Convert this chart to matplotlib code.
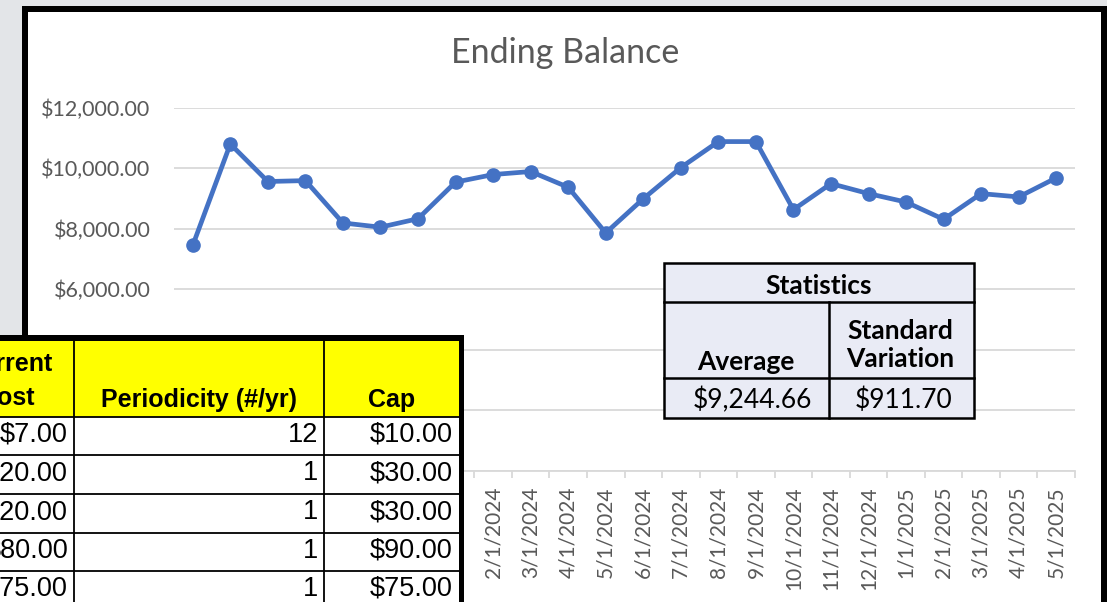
import matplotlib
matplotlib.use('Agg')
import matplotlib.pyplot as plt
import numpy as np
from matplotlib.patches import Rectangle

# ---------------- data ----------------
dates = ["6/1/2023", "7/1/2023", "8/1/2023", "9/1/2023", "10/1/2023", "11/1/2023",
         "12/1/2023", "1/1/2024", "2/1/2024", "3/1/2024", "4/1/2024", "5/1/2024",
         "6/1/2024", "7/1/2024", "8/1/2024", "9/1/2024", "10/1/2024", "11/1/2024",
         "12/1/2024", "1/1/2025", "2/1/2025", "3/1/2025", "4/1/2025", "5/1/2025"]
balance = [7450, 10800, 9560, 9590, 8190, 8050, 8330, 9540, 9790, 9890, 9370, 7860,
           8990, 10020, 10880, 10880, 8630, 9490, 9160, 8880, 8310, 9160, 9050, 9680]
y_ticks = [0, 2000, 4000, 6000, 8000, 10000, 12000]

stats_title = "Statistics"
stats_headers = ["Average", "Standard\nVariation"]
stats_values = ["$9,244.66", "$911.70"]

cost_headers = ["Current\nCost", "Periodicity (#/yr)", "Cap"]
current_cost = ["$7.00", "$20.00", "$20.00", "$80.00", "$75.00"]
periodicity = ["12", "1", "1", "1", "1"]
cap = ["$10.00", "$30.00", "$30.00", "$90.00", "$75.00"]

# ---------------- layout ----------------
W, H = 1107, 602
fig = plt.figure(figsize=(W / 100, H / 100), dpi=100)
CH_FONT = ['Lato', 'DejaVu Sans']
TB_FONT = ['Liberation Sans', 'DejaVu Sans']
GRAY_TXT = '#595959'

bg = fig.add_axes([0, 0, 1, 1], zorder=0)
bg.set_xlim(0, W); bg.set_ylim(H, 0); bg.axis('off')
bg.add_patch(Rectangle((0, 0), W, H, color='#E3E5E8', lw=0))
bg.add_patch(Rectangle((22, 6), W - 22, H, color='white', lw=0))
bg.add_patch(Rectangle((22, 6), 6, H, color='black', lw=0))
bg.add_patch(Rectangle((22, 6), W - 22, 6, color='black', lw=0))
bg.add_patch(Rectangle((1101, 6), 6, H, color='black', lw=0))
bg.text(565, 53, "Ending Balance", ha='center', va='center', fontsize=24.5,
        color=GRAY_TXT, family=CH_FONT)

# chart axes
x0, x1, ytop, ybot = 174, 1075, 107.7, 470.7
ax = fig.add_axes([x0 / W, (H - ybot) / H, (x1 - x0) / W, (ybot - ytop) / H], zorder=1)
ax.patch.set_alpha(0)
xs = np.arange(len(balance))
ax.plot(xs, balance, color='#4472C4', lw=3.4, marker='o', ms=9.5,
        solid_joinstyle='round', zorder=3)
ax.set_xlim(-0.5, len(balance) - 0.5)
ax.set_ylim(0, 12000)
ax.set_yticks(y_ticks)
ax.set_yticklabels([f"${v:,.2f}" for v in y_ticks], family=CH_FONT)
ax.grid(axis='y', color='#D9D9D9', lw=1.3, zorder=0)
for s in ['left', 'right', 'top']:
    ax.spines[s].set_visible(False)
ax.spines['bottom'].set_color('#D9D9D9')
ax.spines['bottom'].set_linewidth(1.3)
ax.set_xticks(xs)
ax.set_xticklabels(dates, rotation=90, family=CH_FONT)
ax.set_xticks(np.arange(-0.5, len(balance)), minor=True)
ax.tick_params(axis='x', which='major', length=0, pad=11.5, labelsize=15, labelcolor=GRAY_TXT)
ax.tick_params(axis='x', which='minor', length=5, color='#D9D9D9', width=1.3)
ax.tick_params(axis='y', length=0, pad=17, labelsize=15.5, labelcolor=GRAY_TXT)

# overlay for tables
ov = fig.add_axes([0, 0, 1, 1], zorder=2)
ov.patch.set_alpha(0)
ov.set_xlim(0, W); ov.set_ylim(H, 0); ov.axis('off')

# statistics table
sx0, sx1, sxm = 663.5, 973.5, 829
sy = [262.7, 301.7, 377.7, 417.7]
ov.add_patch(Rectangle((sx0, sy[0]), sx1 - sx0, sy[3] - sy[0], facecolor='#E9EBF5',
                       edgecolor='black', lw=1.8))
ov.plot([sx0, sx1], [sy[1], sy[1]], color='black', lw=1.8)
ov.plot([sx0, sx1], [sy[2], sy[2]], color='black', lw=1.8)
ov.plot([sxm, sxm], [sy[1], sy[3]], color='black', lw=1.8)
FS = 19
ov.text((sx0 + sx1) / 2, 286, stats_title, ha='center', va='center', fontsize=FS,
        weight='bold', family=CH_FONT)
ov.text(746, 362, stats_headers[0], ha='center', va='center', fontsize=FS,
        weight='bold', family=CH_FONT)
ov.text(900, 345, stats_headers[1], ha='center', va='center', fontsize=FS,
        weight='bold', family=CH_FONT, linespacing=1.2)
ov.text(752, 400, stats_values[0], ha='center', va='center', fontsize=FS, family=CH_FONT)
ov.text(952, 400, stats_values[1], ha='right', va='center', fontsize=FS, family=CH_FONT)

# yellow cost table
tx0, tx1 = -60, 461.5
cols = [74.3, 324.3]
ty = [338, 417, 455, 494, 532.7, 571, 609]
ov.add_patch(Rectangle((tx0, ty[0]), tx1 - tx0, ty[1] - ty[0], facecolor='#FFFF00', lw=0))
ov.add_patch(Rectangle((tx0, ty[1]), tx1 - tx0, H - ty[1], facecolor='white', lw=0))
for yy in ty[1:6]:
    ov.plot([tx0, tx1], [yy, yy], color='black', lw=1.3)
for cx in cols:
    ov.plot([cx, cx], [ty[0], H], color='black', lw=1.3)
ov.add_patch(Rectangle((0, 335), 464, 6, color='black', lw=0))
ov.add_patch(Rectangle((459, 335), 5, H - 335, color='black', lw=0))

ov.text(7, 381, cost_headers[0], ha='center', va='center', fontsize=18, weight='bold',
        family=TB_FONT, linespacing=1.55)
ov.text(199, 400, cost_headers[1], ha='center', va='center', fontsize=18, weight='bold',
        family=TB_FONT)
ov.text(392, 400, cost_headers[2], ha='center', va='center', fontsize=18, weight='bold',
        family=TB_FONT)
for i in range(len(cap)):
    yc = (ty[i + 1] + ty[i + 2]) / 2 - 1
    ov.text(68, yc, current_cost[i], ha='right', va='center', fontsize=19.5, family=TB_FONT)
    ov.text(318, yc, periodicity[i], ha='right', va='center', fontsize=19.5, family=TB_FONT)
    ov.text(452.5, yc, cap[i], ha='right', va='center', fontsize=19.5, family=TB_FONT)

fig.savefig('out.png', dpi=100)
